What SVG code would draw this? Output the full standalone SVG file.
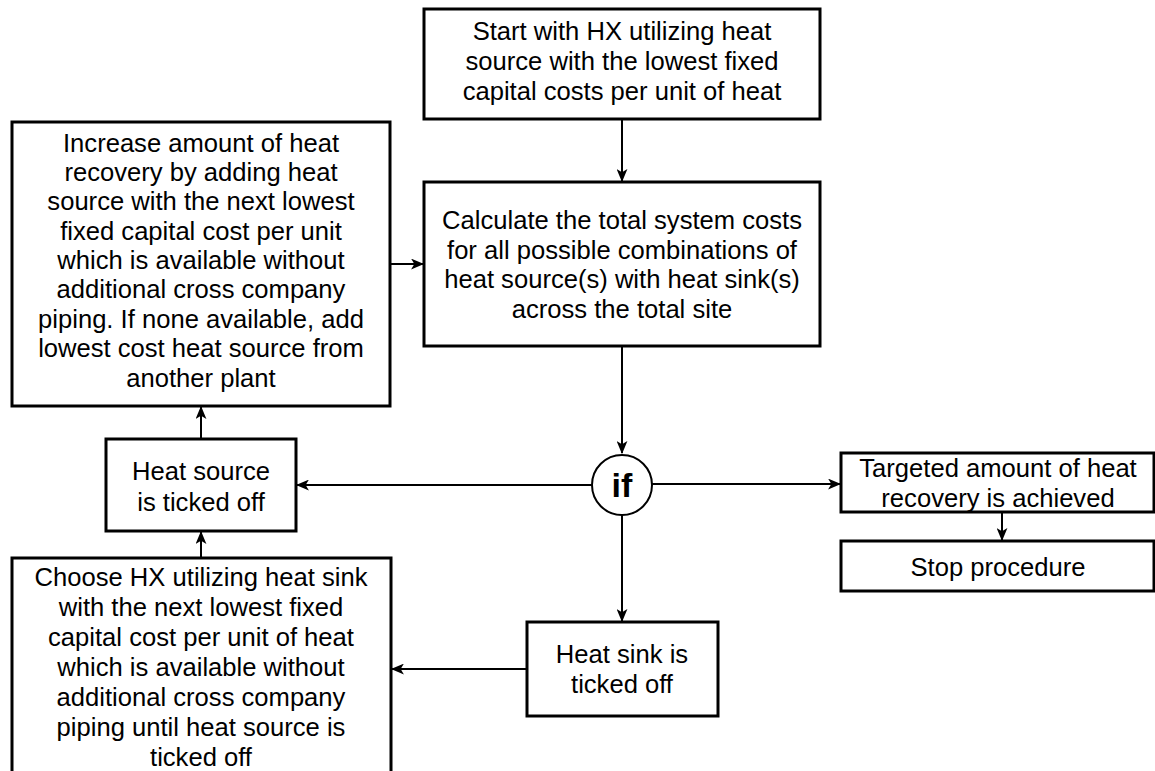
<svg xmlns="http://www.w3.org/2000/svg" width="1155" height="771" viewBox="0 0 1155 771">
  <style>
    .box { fill: #fff; stroke: #000; stroke-width: 3; }
    .t { font-family: "Liberation Sans", Arial, sans-serif; font-size: 25.6px; text-anchor: middle; fill: #000; }
    .if { font-family: "Liberation Sans", Arial, sans-serif; font-size: 34px; font-weight: bold; text-anchor: middle; fill: #000; }
    .conn { stroke: #000; stroke-width: 2; fill: none; marker-end: url(#arrow); }
  </style>
  <defs>
    <marker id="arrow" viewBox="0 0 12 10" refX="11" refY="5" markerWidth="13" markerHeight="11" markerUnits="userSpaceOnUse" orient="auto">
      <path d="M0,0 L12,5 L0,10 L3,5 Z" fill="#000"/>
    </marker>
  </defs>
  <rect width="1155" height="771" fill="#fff"/>

  <g id="connectors">
    <line class="conn" x1="622" y1="119" x2="622" y2="181"/>
    <line class="conn" x1="622" y1="346" x2="622" y2="453"/>
    <line class="conn" x1="592" y1="485" x2="297" y2="485"/>
    <line class="conn" x1="652" y1="484" x2="840" y2="484"/>
    <line class="conn" x1="622" y1="515" x2="622" y2="621"/>
    <line class="conn" x1="527" y1="669" x2="392" y2="669"/>
    <line class="conn" x1="201" y1="558" x2="201" y2="532"/>
    <line class="conn" x1="201" y1="439" x2="201" y2="407"/>
    <line class="conn" x1="390" y1="264" x2="423" y2="264"/>
    <line class="conn" x1="1002" y1="512" x2="1002" y2="540"/>
  </g>

  <g id="start">
    <rect class="box" x="424" y="9" width="396" height="110"/>
    <text class="t" x="622" y="40">Start with HX utilizing heat</text>
    <text class="t" x="622" y="70">source with the lowest fixed</text>
    <text class="t" x="622" y="100">capital costs per unit of heat</text>
  </g>

  <g id="calculate">
    <rect class="box" x="424" y="182" width="396" height="164"/>
    <text class="t" x="622" y="229">Calculate the total system costs</text>
    <text class="t" x="622" y="259">for all possible combinations of</text>
    <text class="t" x="622" y="288">heat source(s) with heat sink(s)</text>
    <text class="t" x="622" y="318">across the total site</text>
  </g>

  <g id="increase">
    <rect class="box" x="12" y="122" width="378" height="284"/>
    <text class="t" x="201" y="152">Increase amount of heat</text>
    <text class="t" x="201" y="181">recovery by adding heat</text>
    <text class="t" x="201" y="210">source with the next lowest</text>
    <text class="t" x="201" y="240">fixed capital cost per unit</text>
    <text class="t" x="201" y="269">which is available without</text>
    <text class="t" x="201" y="298">additional cross company</text>
    <text class="t" x="201" y="328">piping. If none available, add</text>
    <text class="t" x="201" y="357">lowest cost heat source from</text>
    <text class="t" x="201" y="387">another plant</text>
  </g>

  <g id="decision">
    <circle cx="622" cy="485" r="30" fill="#fff" stroke="#000" stroke-width="2"/>
    <text class="if" x="622" y="497">if</text>
  </g>

  <g id="source-ticked">
    <rect class="box" x="106" y="439" width="190" height="92"/>
    <text class="t" x="201" y="480">Heat source</text>
    <text class="t" x="201" y="511">is ticked off</text>
  </g>

  <g id="target-achieved">
    <rect class="box" x="841" y="453" width="313" height="59"/>
    <text class="t" x="998" y="477">Targeted amount of heat</text>
    <text class="t" x="998" y="507">recovery is achieved</text>
  </g>

  <g id="stop">
    <rect class="box" x="841" y="541" width="313" height="50"/>
    <text class="t" x="998" y="576">Stop procedure</text>
  </g>

  <g id="sink-ticked">
    <rect class="box" x="527" y="622" width="191" height="94"/>
    <text class="t" x="622" y="663">Heat sink is</text>
    <text class="t" x="622" y="693">ticked off</text>
  </g>

  <g id="choose">
    <rect class="box" x="12" y="558" width="379" height="220"/>
    <text class="t" x="201" y="586">Choose HX utilizing heat sink</text>
    <text class="t" x="201" y="616">with the next lowest fixed</text>
    <text class="t" x="201" y="646">capital cost per unit of heat</text>
    <text class="t" x="201" y="676">which is available without</text>
    <text class="t" x="201" y="706">additional cross company</text>
    <text class="t" x="201" y="736">piping until heat source is</text>
    <text class="t" x="201" y="766">ticked off</text>
  </g>
</svg>
